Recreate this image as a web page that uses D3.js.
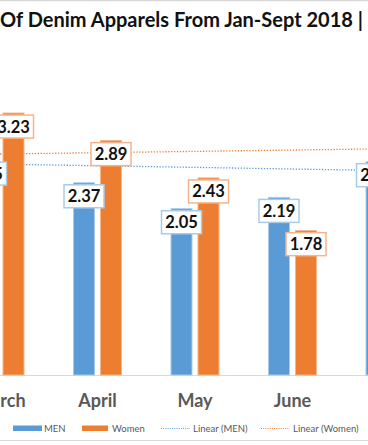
<!DOCTYPE html>
<html><head><meta charset="utf-8">
<script src="https://cdn.jsdelivr.net/npm/d3@7/dist/d3.min.js"></script>
<style>body{margin:0;background:#fff;}svg{display:block;}</style>
</head><body>
<svg id="c" width="368" height="445"></svg>
<script>
const months = ["March", "April", "May", "June", "July"];
const men = [2.65, 2.37, 2.05, 2.19, 2.63];
const women = [3.23, 2.89, 2.43, 1.78, null];
const trendMonths = ["March", "July"];
const trendMen = [2.60, 2.52];
const trendWomen = [2.725, 2.79];
const seriesNames = ["MEN", "Women"];
const titleText = "Of Denim Apparels From Jan-Sept 2018 |";

const W = 368, H = 445;
const svg = d3.select("#c");
const colors = {MEN: "#5B9BD5", Women: "#ED7D31"};
const light = {MEN: "#A9CBEA", Women: "#F5B48A"};

const x = d3.scaleBand().domain(months).range([-48.75, -48.75 + months.length * 97.5]).padding(0);
const xs = d3.scaleBand().domain(seriesNames).range([x.bandwidth()/2 - 27, x.bandwidth()/2 + 27])
  .paddingInner(5/27).paddingOuter(2.5/27);
const y = d3.scaleLinear().domain([0, 4]).range([375, 375 - 4 * 81.1]);

// frame lines
svg.append("line").attr("x1", 0).attr("x2", W).attr("y1", 0.5).attr("y2", 0.5).attr("stroke", "#d9d9d9").attr("stroke-width", 1.5);
svg.append("line").attr("x1", 0).attr("x2", W).attr("y1", 440.5).attr("y2", 440.5).attr("stroke", "#d9d9d9").attr("stroke-width", 1);

// title
const t = svg.append("text").attr("x", 0).attr("y", 27).text(titleText)
  .attr("font-family", "Lato, 'Open Sans', sans-serif").attr("font-weight", 700)
  .attr("font-size", 19).attr("fill", "#111");
let len = t.node().getComputedTextLength();
t.attr("font-size", 19 * 363 / len);

// trend lines (behind bars)
const trend = (vals, name) => {
  const pts = trendMonths.map((m, i) => [x(m) + x.bandwidth()/2, y(vals[i])]);
  svg.append("path").attr("d", d3.line()(pts)).attr("fill", "none")
    .attr("stroke", colors[name]).attr("stroke-width", 1.3).attr("stroke-dasharray", "1.3 1.6");
};
trend(trendMen, "MEN");
trend(trendWomen, "Women");

// axis line
svg.append("line").attr("x1", 0).attr("x2", W).attr("y1", y(0) + 0.5).attr("y2", y(0) + 0.5)
  .attr("stroke", "#d9d9d9").attr("stroke-width", 1);

// bars
const data = [];
months.forEach((m, i) => {
  if (men[i] != null) data.push({m, s: "MEN", v: men[i]});
  if (women[i] != null) data.push({m, s: "Women", v: women[i]});
});
svg.append("g").selectAll("rect").data(data).join("rect")
  .attr("x", d => x(d.m) + xs(d.s) + 0.5)
  .attr("width", xs.bandwidth() - 1)
  .attr("y", d => y(d.v))
  .attr("height", d => y(0) - y(d.v))
  .attr("fill", d => colors[d.s])
  .attr("stroke", d => light[d.s]).attr("stroke-width", 1);

// labels
const lg = svg.append("g").selectAll("g").data(data).join("g")
  .attr("transform", d => `translate(${x(d.m) + xs(d.s) + xs.bandwidth()/2},${y(d.v) + 2})`);
lg.append("rect").attr("x", -20).attr("y", 0).attr("width", 40).attr("height", 23)
  .attr("fill", "#fff").attr("stroke", d => light[d.s]).attr("stroke-width", 1.5);
lg.append("text").attr("x", 0).attr("y", 17.5).attr("text-anchor", "middle")
  .attr("font-family", "Lato, sans-serif").attr("font-weight", 700).attr("font-size", 16.5)
  .attr("fill", "#111").text(d => d.v.toFixed(2));

// category labels
svg.append("g").selectAll("text").data(months).join("text")
  .attr("x", d => x(d) + x.bandwidth()/2).attr("y", 407)
  .attr("text-anchor", "middle").attr("font-family", "Lato, sans-serif").attr("font-weight", 700)
  .attr("font-size", 18).attr("fill", "#595959").text(d => d);

// legend
const legend = [
  {label: "MEN", type: "rect", c: colors.MEN, x: 13, w: 29, tx: 44},
  {label: "Women", type: "rect", c: colors.Women, x: 82, w: 26, tx: 112},
  {label: "Linear (MEN)", type: "line", c: colors.MEN, x: 161, w: 29, tx: 193},
  {label: "Linear (Women)", type: "line", c: colors.Women, x: 261, w: 28, tx: 293}
];
const L = svg.append("g");
legend.forEach(it => {
  if (it.type === "rect") {
    L.append("rect").attr("x", it.x).attr("y", 425.5).attr("width", it.w).attr("height", 5.5).attr("fill", it.c);
  } else {
    L.append("line").attr("x1", it.x).attr("x2", it.x + it.w).attr("y1", 428.5).attr("y2", 428.5)
      .attr("stroke", it.c).attr("stroke-width", 1).attr("stroke-dasharray", "1 1.2");
  }
  L.append("text").attr("x", it.tx).attr("y", 431.5).attr("font-family", "Lato, sans-serif")
    .attr("font-size", 9.5).attr("fill", "#595959").text(it.label);
});
</script>
</body></html>
